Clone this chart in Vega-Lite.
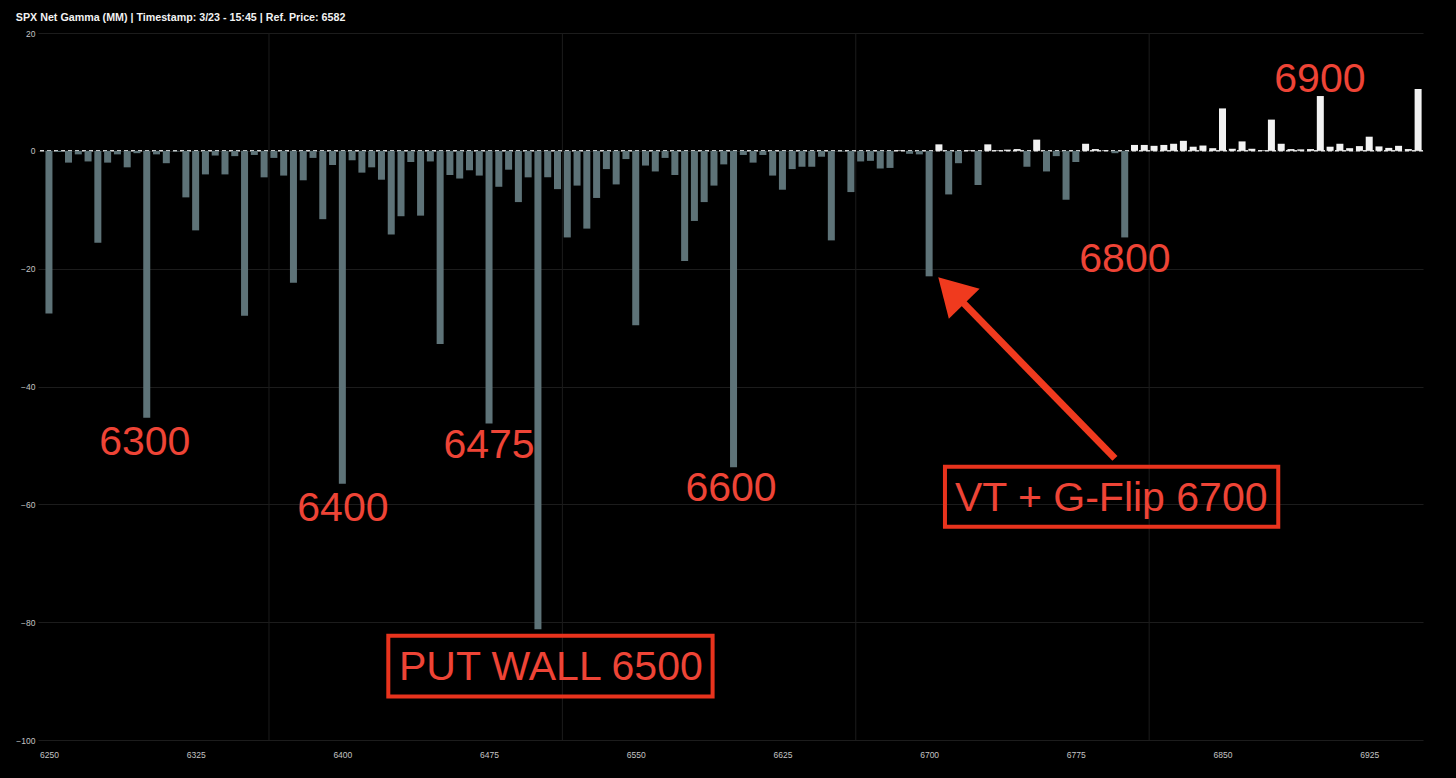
{
  "$schema": "https://vega.github.io/schema/vega-lite/v6.json",
  "width": 1385,
  "height": 707,
  "autosize": {"type": "none"},
  "padding": {"left": 38, "top": 33, "right": 33, "bottom": 38},
  "background": "#000000",
  "title": {
    "text": "SPX Net Gamma (MM) | Timestamp: 3/23 - 15:45  | Ref. Price: 6582",
    "anchor": "start",
    "frame": "bounds",
    "font": "Liberation Sans",
    "fontSize": 10.7,
    "fontWeight": "bold",
    "color": "#f2f2f2",
    "offset": 5
  },
  "config": {
    "view": {"stroke": null},
    "axis": {
      "labelFont": "Liberation Sans",
      "labelFontSize": 8.5,
      "labelColor": "#c4c4c4",
      "domain": false,
      "ticks": false,
      "tickSize": 0,
      "gridColor": "#1c1c1c",
      "gridWidth": 1,
      "title": null
    }
  },
  "datasets": {
    "gamma": [
      {"strike": 6250, "gamma": -27.6}, {"strike": 6255, "gamma": -0.2}, {"strike": 6260, "gamma": -2.0}, {"strike": 6265, "gamma": -0.6},
      {"strike": 6270, "gamma": -1.8}, {"strike": 6275, "gamma": -15.6}, {"strike": 6280, "gamma": -2.0}, {"strike": 6285, "gamma": -0.6},
      {"strike": 6290, "gamma": -2.8}, {"strike": 6295, "gamma": -0.4}, {"strike": 6300, "gamma": -45.3}, {"strike": 6305, "gamma": -0.6},
      {"strike": 6310, "gamma": -2.1}, {"strike": 6315, "gamma": -0.1}, {"strike": 6320, "gamma": -7.9}, {"strike": 6325, "gamma": -13.5},
      {"strike": 6330, "gamma": -4.0}, {"strike": 6335, "gamma": -0.8}, {"strike": 6340, "gamma": -4.0}, {"strike": 6345, "gamma": -0.9},
      {"strike": 6350, "gamma": -28.0}, {"strike": 6355, "gamma": -0.7}, {"strike": 6360, "gamma": -4.5}, {"strike": 6365, "gamma": -1.2},
      {"strike": 6370, "gamma": -4.2}, {"strike": 6375, "gamma": -22.4}, {"strike": 6380, "gamma": -5.0}, {"strike": 6385, "gamma": -1.2},
      {"strike": 6390, "gamma": -11.6}, {"strike": 6395, "gamma": -2.4}, {"strike": 6400, "gamma": -56.5}, {"strike": 6405, "gamma": -1.6},
      {"strike": 6410, "gamma": -3.7}, {"strike": 6415, "gamma": -2.8}, {"strike": 6420, "gamma": -4.9}, {"strike": 6425, "gamma": -14.2},
      {"strike": 6430, "gamma": -11.1}, {"strike": 6435, "gamma": -1.9}, {"strike": 6440, "gamma": -11.0}, {"strike": 6445, "gamma": -1.8},
      {"strike": 6450, "gamma": -32.8}, {"strike": 6455, "gamma": -4.1}, {"strike": 6460, "gamma": -4.7}, {"strike": 6465, "gamma": -3.3},
      {"strike": 6470, "gamma": -4.2}, {"strike": 6475, "gamma": -46.3}, {"strike": 6480, "gamma": -6.1}, {"strike": 6485, "gamma": -3.2},
      {"strike": 6490, "gamma": -8.7}, {"strike": 6495, "gamma": -4.5}, {"strike": 6500, "gamma": -81.2}, {"strike": 6505, "gamma": -4.5},
      {"strike": 6510, "gamma": -6.5}, {"strike": 6515, "gamma": -14.7}, {"strike": 6520, "gamma": -5.9}, {"strike": 6525, "gamma": -13.2},
      {"strike": 6530, "gamma": -8.0}, {"strike": 6535, "gamma": -3.1}, {"strike": 6540, "gamma": -5.7}, {"strike": 6545, "gamma": -1.4},
      {"strike": 6550, "gamma": -29.6}, {"strike": 6555, "gamma": -2.5}, {"strike": 6560, "gamma": -3.5}, {"strike": 6565, "gamma": -1.2},
      {"strike": 6570, "gamma": -4.1}, {"strike": 6575, "gamma": -18.7}, {"strike": 6580, "gamma": -11.9}, {"strike": 6585, "gamma": -8.7},
      {"strike": 6590, "gamma": -5.9}, {"strike": 6595, "gamma": -2.3}, {"strike": 6600, "gamma": -53.7}, {"strike": 6605, "gamma": -0.7},
      {"strike": 6610, "gamma": -2.0}, {"strike": 6615, "gamma": -0.7}, {"strike": 6620, "gamma": -4.2}, {"strike": 6625, "gamma": -6.6},
      {"strike": 6630, "gamma": -3.1}, {"strike": 6635, "gamma": -2.7}, {"strike": 6640, "gamma": -2.7}, {"strike": 6645, "gamma": -1.0},
      {"strike": 6650, "gamma": -15.2}, {"strike": 6655, "gamma": -0.1}, {"strike": 6660, "gamma": -7.0}, {"strike": 6665, "gamma": -1.8},
      {"strike": 6670, "gamma": -1.7}, {"strike": 6675, "gamma": -3.0}, {"strike": 6680, "gamma": -2.9}, {"strike": 6685, "gamma": 0.1},
      {"strike": 6690, "gamma": -0.5}, {"strike": 6695, "gamma": -0.6}, {"strike": 6700, "gamma": -21.3}, {"strike": 6705, "gamma": 1.1},
      {"strike": 6710, "gamma": -7.4}, {"strike": 6715, "gamma": -2.1}, {"strike": 6720, "gamma": 0.1}, {"strike": 6725, "gamma": -5.8},
      {"strike": 6730, "gamma": 1.1}, {"strike": 6735, "gamma": 0.1}, {"strike": 6740, "gamma": 0.2}, {"strike": 6745, "gamma": 0.3},
      {"strike": 6750, "gamma": -2.7}, {"strike": 6755, "gamma": 1.9}, {"strike": 6760, "gamma": -3.5}, {"strike": 6765, "gamma": -0.9},
      {"strike": 6770, "gamma": -8.3}, {"strike": 6775, "gamma": -1.9}, {"strike": 6780, "gamma": 1.2}, {"strike": 6785, "gamma": 0.3},
      {"strike": 6790, "gamma": 0.1}, {"strike": 6795, "gamma": -0.4}, {"strike": 6800, "gamma": -14.7}, {"strike": 6805, "gamma": 1.0},
      {"strike": 6810, "gamma": 1.0}, {"strike": 6815, "gamma": 0.85}, {"strike": 6820, "gamma": 1.0}, {"strike": 6825, "gamma": 1.2},
      {"strike": 6830, "gamma": 1.7}, {"strike": 6835, "gamma": 0.7}, {"strike": 6840, "gamma": 0.9}, {"strike": 6845, "gamma": 0.45},
      {"strike": 6850, "gamma": 7.2}, {"strike": 6855, "gamma": 0.35}, {"strike": 6860, "gamma": 1.6}, {"strike": 6865, "gamma": 0.35},
      {"strike": 6870, "gamma": 0.1}, {"strike": 6875, "gamma": 5.3}, {"strike": 6880, "gamma": 1.2}, {"strike": 6885, "gamma": 0.3},
      {"strike": 6890, "gamma": 0.25}, {"strike": 6895, "gamma": 0.3}, {"strike": 6900, "gamma": 9.3}, {"strike": 6905, "gamma": 0.7},
      {"strike": 6910, "gamma": 1.2}, {"strike": 6915, "gamma": 0.45}, {"strike": 6920, "gamma": 0.8}, {"strike": 6925, "gamma": 2.4},
      {"strike": 6930, "gamma": 0.75}, {"strike": 6935, "gamma": 0.5}, {"strike": 6940, "gamma": 0.85}, {"strike": 6945, "gamma": 0.3},
      {"strike": 6950, "gamma": 10.5}
    ],
    "vgrid": [{"strike": 6362.5}, {"strike": 6512.5}, {"strike": 6662.5}, {"strike": 6812.5}],
    "labels": [
      {"label": "6300", "strike": 6299, "gamma": -51.6},
      {"label": "6400", "strike": 6400.3, "gamma": -62.8},
      {"label": "6475", "strike": 6475, "gamma": -52.2},
      {"label": "6600", "strike": 6598.7, "gamma": -59.4},
      {"label": "6800", "strike": 6800.1, "gamma": -20.5},
      {"label": "6900", "strike": 6899.8, "gamma": 10.0},
      {"label": "PUT WALL 6500", "strike": 6506.6, "gamma": -89.9},
      {"label": "VT + G-Flip 6700", "strike": 6793.1, "gamma": -61.2}
    ],
    "boxes": [
      {"strike": 6423.5, "strike2": 6589.3, "gamma": -82.3, "gamma2": -92.6},
      {"strike": 6708.1, "strike2": 6878.5, "gamma": -53.6, "gamma2": -63.8}
    ],
    "arrowShaft": [{"strike": 6795, "gamma": -52.2, "strike2": 6716, "gamma2": -25.3}],
    "arrowHead": [{"strike": 6711.3, "gamma": -23.7, "angle": 315.7}]
  },
  "layer": [
    {
      "data": {"name": "gamma"},
      "mark": {"type": "bar", "width": 7, "opacity": 0},
      "encoding": {
        "x": {
          "field": "strike", "type": "quantitative",
          "scale": {"domain": [6244.4, 6952.5], "nice": false, "zero": false, "padding": 0},
          "axis": {"values": [6250, 6325, 6400, 6475, 6550, 6625, 6700, 6775, 6850, 6925], "grid": false, "labelPadding": 10, "format": "d", "labelFlush": false}
        },
        "y": {
          "field": "gamma", "type": "quantitative",
          "scale": {"domain": [-100, 20], "nice": false, "padding": 0},
          "axis": {"values": [20, 0, -20, -40, -60, -80, -100], "grid": true, "labelPadding": 3, "labelFlush": false}
        }
      }
    },
    {
      "data": {"name": "vgrid"},
      "mark": {"type": "rule", "color": "#1c1c1c", "strokeWidth": 1},
      "encoding": {"x": {"field": "strike", "type": "quantitative"}}
    },
    {
      "data": {"values": [{"gamma": 0}]},
      "mark": {"type": "rule", "color": "#d8d8d8", "strokeWidth": 1.5, "strokeDash": [4, 3]},
      "encoding": {"y": {"field": "gamma", "type": "quantitative"}}
    },
    {
      "data": {"name": "gamma"},
      "mark": {"type": "bar", "width": 7},
      "encoding": {
        "x": {"field": "strike", "type": "quantitative"},
        "y": {"field": "gamma", "type": "quantitative"},
        "color": {"condition": {"test": "datum.gamma > 0", "value": "#f2f2f2"}, "value": "#5e7378"}
      }
    },
    {
      "data": {"name": "labels"},
      "mark": {"type": "text", "font": "Liberation Sans", "fontSize": 41, "color": "#ee4436", "align": "center", "baseline": "alphabetic"},
      "encoding": {
        "x": {"field": "strike", "type": "quantitative"},
        "y": {"field": "gamma", "type": "quantitative"},
        "text": {"field": "label"}
      }
    },
    {
      "data": {"name": "boxes"},
      "mark": {"type": "rect", "fill": null, "fillOpacity": 0, "stroke": "#e8331d", "strokeWidth": 4},
      "encoding": {
        "x": {"field": "strike", "type": "quantitative"},
        "x2": {"field": "strike2"},
        "y": {"field": "gamma", "type": "quantitative"},
        "y2": {"field": "gamma2"}
      }
    },
    {
      "data": {"name": "arrowShaft"},
      "mark": {"type": "rule", "color": "#f03a1e", "strokeWidth": 7, "strokeCap": "butt"},
      "encoding": {
        "x": {"field": "strike", "type": "quantitative"},
        "x2": {"field": "strike2"},
        "y": {"field": "gamma", "type": "quantitative"},
        "y2": {"field": "gamma2"}
      }
    },
    {
      "data": {"name": "arrowHead"},
      "mark": {"type": "point", "shape": "triangle-up", "filled": true, "color": "#f03a1e", "opacity": 1, "size": 1849},
      "encoding": {
        "x": {"field": "strike", "type": "quantitative"},
        "y": {"field": "gamma", "type": "quantitative"},
        "angle": {"field": "angle", "type": "quantitative", "scale": null}
      }
    }
  ]
}
